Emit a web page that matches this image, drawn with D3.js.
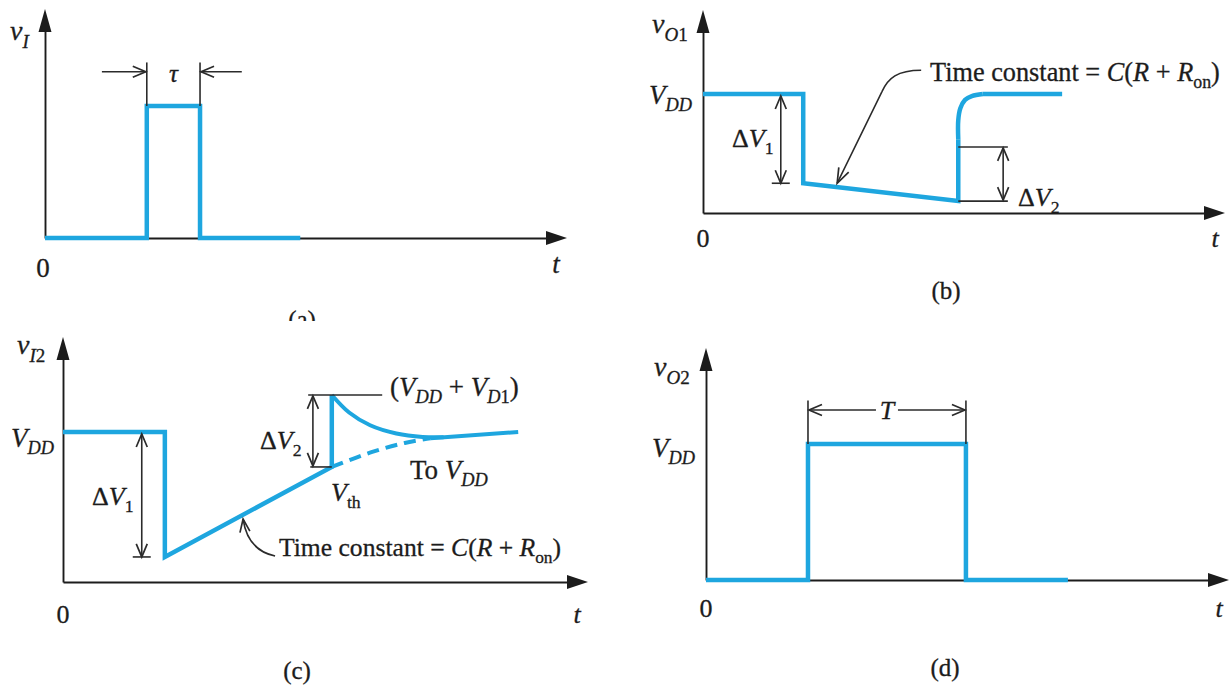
<!DOCTYPE html>
<html>
<head>
<meta charset="utf-8">
<script src="https://cdn.jsdelivr.net/npm/d3@7"></script>
<style>
  html, body { margin: 0; padding: 0; background: #fff; }
  text { white-space: pre; }
</style>
</head>
<body>
<svg id="fig" width="1230" height="685"></svg>
<script>
// Time is in arbitrary units (0..10 along each t axis), voltage in units of VDD.

// (a) input trigger pulse v_I
const vI_t = [0, 1.95, 1.95, 2.97, 2.97, 4.89];
const vI_v = [0, 0, 1, 1, 0, 0];

// (b) output of the first gate v_O1
const vO1_t = [0, 1.92, 1.92, 4.89, 4.89];
const vO1_v = [1, 1, 0.25, 0.10, 0.62];
const vO1Rise_t = [4.89, 4.89, 4.93, 5.02, 5.15, 5.36];
const vO1Rise_v = [0.62, 0.78, 0.88, 0.95, 0.983, 1.0];
const vO1Tail_t = [5.36, 6.88];
const vO1Tail_v = [1.0, 1.0];

// (c) input of the second gate v_I2
const vI2_t = [0, 1.94, 1.94, 5.12, 5.12];
const vI2_v = [1, 1, 0.167, 0.767, 1.247];
const vI2Dash_t = [5.12, 5.89, 6.51, 7.0];
const vI2Dash_v = [0.767, 0.867, 0.927, 0.958];
const vI2Tail_t = [7.0, 8.67];
const vI2Tail_v = [0.958, 1.0];
const vI2Decay_t = [5.12, 5.45, 5.85, 6.35, 6.85, 7.25];
const vI2Decay_v = [1.247, 1.13, 1.045, 0.99, 0.967, 0.965];

// (d) output pulse v_O2
const vO2_t = [0, 1.95, 1.95, 4.97, 4.97, 6.92];
const vO2_v = [0, 0, 1, 1, 0, 0];

const BLUE = "#1ea6df";
const INK = "#1c1c1c";
const DIM = "#2b2b2b";
const FONT = "'Liberation Serif', 'DejaVu Serif', serif";

const svg = d3.select("#fig");
const defs = svg.append("defs");
defs.append("clipPath").attr("id", "clipA")
  .append("rect").attr("x", 0).attr("y", 0).attr("width", 620).attr("height", 321);

const zip = (ts, vs) => ts.map((t, i) => [t, vs[i]]);

// one panel: scales + arrowed axes
function makePanel(cfg) {
  const x = d3.scaleLinear().domain([0, 10]).range([cfg.x0, cfg.xTip]);
  const y = d3.scaleLinear().domain([0, 1]).range([cfg.y0, cfg.y1]);
  const g = svg.append("g");
  if (cfg.clip) g.attr("clip-path", `url(#${cfg.clip})`);

  const vTop = y.invert(cfg.yTip + 12);
  const xAxisScale = d3.scaleLinear().domain([0, x.invert(cfg.xTip - 12)])
    .range([cfg.x0, cfg.xTip - 12]);
  const yAxisScale = d3.scaleLinear().domain([0, vTop]).range([cfg.y0, cfg.yTip + 12]);

  const gx = g.append("g").attr("transform", `translate(0,${cfg.y0})`)
    .call(d3.axisBottom(xAxisScale).tickValues([]).tickSizeOuter(0));
  const gy = g.append("g").attr("transform", `translate(${cfg.x0},0)`)
    .call(d3.axisLeft(yAxisScale).tickValues([]).tickSizeOuter(0));
  [gx, gy].forEach(a => a.select(".domain").attr("stroke", INK).attr("stroke-width", 1.9));

  // filled arrow heads
  g.append("path")
    .attr("d", `M${cfg.xTip},${cfg.y0} L${cfg.xTip - 21},${cfg.y0 - 7} L${cfg.xTip - 21},${cfg.y0 + 7} Z`)
    .attr("fill", INK);
  g.append("path")
    .attr("d", `M${cfg.x0},${cfg.yTip} L${cfg.x0 - 6.5},${cfg.yTip + 23} L${cfg.x0 + 6.5},${cfg.yTip + 23} Z`)
    .attr("fill", INK);
  return { g, x, y };
}

function trace(p, pts, opts = {}) {
  const line = d3.line().x(d => p.x(d[0])).y(d => p.y(d[1]))
    .curve(opts.curve || d3.curveLinear);
  return p.g.append("path").datum(pts)
    .attr("d", line)
    .attr("fill", "none")
    .attr("stroke", BLUE)
    .attr("stroke-width", opts.w || 4.5)
    .attr("stroke-linejoin", "miter")
    .attr("stroke-linecap", "butt")
    .attr("stroke-dasharray", opts.dash || null);
}

// thin dimension line
function seg(g, x1, y1, x2, y2, w = 1.6) {
  g.append("line").attr("x1", x1).attr("y1", y1).attr("x2", x2).attr("y2", y2)
    .attr("stroke", DIM).attr("stroke-width", w);
}
// open chevron arrowhead with tip at (tx,ty) pointing along (dx,dy)
function chevron(g, tx, ty, dx, dy, L = 13, W = 5.5) {
  const n = Math.hypot(dx, dy), ux = dx / n, uy = dy / n;
  const bx = tx - ux * L, by = ty - uy * L;
  g.append("path")
    .attr("d", `M${bx - uy * W},${by + ux * W} L${tx},${ty} L${bx + uy * W},${by - ux * W}`)
    .attr("fill", "none").attr("stroke", DIM).attr("stroke-width", 1.7)
    .attr("stroke-linejoin", "miter");
}
function doubleArrow(g, x1, y1, x2, y2) {
  seg(g, x1, y1, x2, y2);
  chevron(g, x1, y1, x1 - x2, y1 - y2);
  chevron(g, x2, y2, x2 - x1, y2 - y1);
}

// text with italic parts and subscripts
function rich(g, x, y, parts, size = 26, anchor = "start") {
  const t = g.append("text").attr("x", x).attr("y", y)
    .attr("font-family", FONT)
    .attr("font-size", size).attr("text-anchor", anchor)
    .attr("fill", INK).attr("stroke", INK).attr("stroke-width", 0.3);
  let shift = 0;
  parts.forEach(p => {
    const s = t.append("tspan").text(p.s);
    if (p.i) s.attr("font-style", "italic");
    const target = p.sub ? size * 0.27 : 0;
    if (target !== shift) { s.attr("dy", target - shift); shift = target; }
    if (p.sub) s.attr("font-size", size * 0.68);
  });
  return t;
}
const VDD = [{ s: "V", i: 1 }, { s: "DD", i: 1, sub: 1 }];
const timeConst = [
  { s: "Time constant = " }, { s: "C", i: 1 }, { s: "(" }, { s: "R", i: 1 },
  { s: " + " }, { s: "R", i: 1 }, { s: "on", sub: 1 }, { s: ")" }
];

// ---------------- (a) ----------------
{
  const p = makePanel({ x0: 45, xTip: 567, y0: 238, y1: 106, yTip: 9, clip: "clipA" });
  trace(p, zip(vI_t, vI_v));
  const xa = p.x(vI_t[1]), xb = p.x(vI_t[3]);
  const yTopLine = p.y(1.33), yArr = p.y(1.26);
  seg(p.g, xa, p.y(1), xa, yTopLine);
  seg(p.g, xb, p.y(1), xb, yTopLine);
  seg(p.g, p.x(1.09), yArr, xa - 1, yArr);
  chevron(p.g, xa - 1, yArr, 1, 0);
  seg(p.g, p.x(3.77), yArr, xb + 1, yArr);
  chevron(p.g, xb + 1, yArr, -1, 0);
  rich(p.g, (xa + xb) / 2, 82, [{ s: "τ", i: 1 }], 25, "middle");
  rich(p.g, 10, 40, [{ s: "v", i: 1 }, { s: "I", i: 1, sub: 1 }], 28);
  rich(p.g, 43, 277, [{ s: "0" }], 27, "middle");
  rich(p.g, 556, 273, [{ s: "t", i: 1 }], 27, "middle");
  rich(p.g, 302, 328, [{ s: "(a)" }], 25, "middle");
}

// ---------------- (b) ----------------
{
  const p = makePanel({ x0: 703, xTip: 1225, y0: 213, y1: 94, yTip: 10 });
  trace(p, zip(vO1_t, vO1_v));
  trace(p, zip(vO1Rise_t, vO1Rise_v), { curve: d3.curveCatmullRom.alpha(0.5) });
  trace(p, zip(vO1Tail_t, vO1Tail_v));

  // ΔV1
  const xd1 = p.x(1.49);
  doubleArrow(p.g, xd1, p.y(1) + 2, xd1, p.y(vO1_v[2]));
  seg(p.g, xd1 - 9, p.y(vO1_v[2]), xd1 + 9, p.y(vO1_v[2]));
  rich(p.g, 732, 147, [{ s: "Δ" }, { s: "V", i: 1 }, { s: "1", sub: 1 }], 26);

  // ΔV2
  const xr = p.x(vO1_t[3]), xe = p.x(5.84), xd2 = p.x(5.75);
  const yHi = p.y(0.555), yLo = p.y(vO1_v[3]);
  seg(p.g, xr, yHi, xe, yHi);
  seg(p.g, xr, yLo, xe, yLo);
  doubleArrow(p.g, xd2, yHi + 1, xd2, yLo - 1);
  rich(p.g, 1018, 206, [{ s: "Δ" }, { s: "V", i: 1 }, { s: "2", sub: 1 }], 26);

  // leader to the slow discharge
  const tx = p.x(2.57), ty = p.y(0.25);
  p.g.append("path")
    .attr("d", `M${tx},${ty} L${tx + 45},${ty - 92} C${tx + 51},${ty - 105} ${tx + 60},${ty - 113} ${tx + 84},${ty - 113}`)
    .attr("fill", "none").attr("stroke", DIM).attr("stroke-width", 1.7);
  chevron(p.g, tx, ty, -45, 92, 15, 5.5);
  rich(p.g, 930, 81, timeConst, 26.3);

  rich(p.g, 652, 33, [{ s: "v", i: 1 }, { s: "O", i: 1, sub: 1 }, { s: "1", sub: 1 }], 28);
  rich(p.g, 692, 104, VDD, 27, "end");
  rich(p.g, 703, 247, [{ s: "0" }], 26, "middle");
  rich(p.g, 1215, 247, [{ s: "t", i: 1 }], 26, "middle");
  rich(p.g, 946, 299, [{ s: "(b)" }], 25, "middle");
}

// ---------------- (c) ----------------
{
  const p = makePanel({ x0: 63, xTip: 588, y0: 582, y1: 432, yTip: 337 });
  trace(p, zip(vI2_t, vI2_v));
  trace(p, zip(vI2Dash_t, vI2Dash_v), { curve: d3.curveCatmullRom.alpha(0.5), dash: "12,7", w: 4 });
  trace(p, zip(vI2Tail_t, vI2Tail_v), { w: 4 });
  trace(p, zip(vI2Decay_t, vI2Decay_v), { curve: d3.curveCatmullRom.alpha(0.5), w: 4 });

  // ΔV1
  const xd1 = p.x(1.5), yLow = p.y(vI2_v[2]);
  doubleArrow(p.g, xd1, p.y(1) + 2, xd1, yLow);
  seg(p.g, xd1 - 9, yLow, xd1 + 9, yLow);
  rich(p.g, 92, 505, [{ s: "Δ" }, { s: "V", i: 1 }, { s: "1", sub: 1 }], 26);

  // ΔV2
  const xv = p.x(vI2_t[3]), xd2 = p.x(4.76);
  const yPk = p.y(vI2_v[4]), yTh = p.y(vI2_v[3]);
  seg(p.g, p.x(4.67), yPk, p.x(6.08), yPk);
  seg(p.g, p.x(4.71), yTh, xv, yTh);
  doubleArrow(p.g, xd2, yPk + 1, xd2, yTh - 1);
  rich(p.g, 260, 449, [{ s: "Δ" }, { s: "V", i: 1 }, { s: "2", sub: 1 }], 26);

  // leader to the recharge ramp
  const tx = p.x(3.43), ty = p.y(0.42);
  p.g.append("path")
    .attr("d", `M${tx},${ty} C${tx + 2},${ty + 14} ${tx + 8},${ty + 32} ${tx + 32},${ty + 37}`)
    .attr("fill", "none").attr("stroke", DIM).attr("stroke-width", 1.7);
  chevron(p.g, tx, ty, -1, -7, 13, 5);
  rich(p.g, 279, 556, timeConst, 25.6);

  rich(p.g, 390, 396, [{ s: "(" }, ...VDD, { s: " + " }, { s: "V", i: 1 }, { s: "D", i: 1, sub: 1 }, { s: "1", sub: 1 }, { s: ")" }], 27);
  rich(p.g, 410, 479, [{ s: "To " }, ...VDD], 27);
  rich(p.g, 331, 501, [{ s: "V", i: 1 }, { s: "th", sub: 1 }], 26);

  rich(p.g, 17, 354, [{ s: "v", i: 1 }, { s: "I", i: 1, sub: 1 }, { s: "2", sub: 1 }], 28);
  rich(p.g, 54, 447, VDD, 27, "end");
  rich(p.g, 63, 623, [{ s: "0" }], 26, "middle");
  rich(p.g, 577, 623, [{ s: "t", i: 1 }], 26, "middle");
  rich(p.g, 297, 679, [{ s: "(c)" }], 25, "middle");
}

// ---------------- (d) ----------------
{
  const p = makePanel({ x0: 706, xTip: 1229, y0: 580, y1: 444, yTip: 348 });
  trace(p, zip(vO2_t, vO2_v));
  const xa = p.x(vO2_t[1]), xb = p.x(vO2_t[3]);
  const yTopLine = p.y(1.32), yArr = p.y(1.25);
  seg(p.g, xa, p.y(1), xa, yTopLine);
  seg(p.g, xb, p.y(1), xb, yTopLine);
  const xm = (xa + xb) / 2;
  seg(p.g, xa + 1, yArr, xm - 11, yArr);
  chevron(p.g, xa + 1, yArr, -1, 0);
  seg(p.g, xm + 11, yArr, xb - 1, yArr);
  chevron(p.g, xb - 1, yArr, 1, 0);
  rich(p.g, xm, 419, [{ s: "T", i: 1 }], 26, "middle");

  rich(p.g, 654, 376, [{ s: "v", i: 1 }, { s: "O", i: 1, sub: 1 }, { s: "2", sub: 1 }], 28);
  rich(p.g, 695, 457, VDD, 27, "end");
  rich(p.g, 706, 617, [{ s: "0" }], 26, "middle");
  rich(p.g, 1219, 617, [{ s: "t", i: 1 }], 26, "middle");
  rich(p.g, 945, 676, [{ s: "(d)" }], 25, "middle");
}
</script>
</body>
</html>
